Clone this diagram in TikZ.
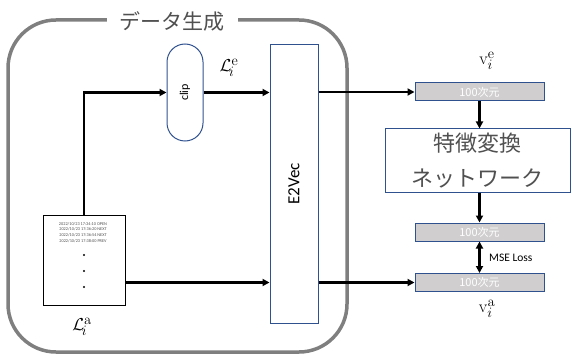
\documentclass[tikz,border=0pt]{standalone}
\usepackage[no-math]{fontspec}
\setmainfont{Carlito}
\newfontfamily\jp{Noto Sans CJK JP}
\usetikzlibrary{arrows.meta}
\definecolor{bord}{HTML}{2F528F}
\definecolor{frm}{HTML}{7F7F7F}
\definecolor{vfill}{HTML}{D0CECE}
\definecolor{txt}{HTML}{505050}
\tikzset{
  arr/.style={line width=2.4pt,-{Triangle[length=7pt,width=7pt]}},
  darr/.style={line width=2.4pt,{Triangle[length=7pt,width=7pt]}-{Triangle[length=7pt,width=7pt]}},
  vecbox/.style={draw=bord,line width=1pt,fill=vfill,minimum width=129pt,minimum height=18pt,inner sep=0pt,
     font=\jp\fontsize{11}{12}\selectfont,text=white},
  lbl/.style={font=\fontsize{19}{22}\selectfont,inner sep=0pt},
}
\begin{document}
\begin{tikzpicture}[x=1pt,y=-1pt]
\useasboundingbox (0,0) rectangle (572,358);
% frame
\draw[frm,line width=3.5pt,rounded corners=48pt] (8,20) rectangle (347,352);
\node[fill=white,inner xsep=13pt,inner ysep=2pt,font=\jp\fontsize{21}{24}\selectfont,text=txt] (title) at (172,21) {データ生成};
% log box
\node[draw=black,line width=1pt,minimum width=82pt,minimum height=90pt,inner sep=0pt] (log) at (84,260) {};
\node[font=\fontsize{4.3}{5.7}\selectfont,text=txt,align=center,inner sep=0pt,anchor=north] (logtxt) at (83,222)
 {2022/10/23 17:34:10 OPEN\\2022/10/23 17:36:20 NEXT\\2022/10/23 17:36:54 NEXT\\2022/10/23 17:38:00 PREV};
\foreach \yy/\nm in {255/d1,271/d2,287/d3}{\fill (84,\yy) circle (1.1pt) coordinate (\nm);}
% clip
\node[draw=bord,line width=1pt,minimum width=36pt,minimum height=97pt,rounded corners=18pt,inner sep=0pt] (clip) at (185,92.5)
 {\rotatebox{90}{\fontsize{12}{14}\selectfont clip}};
% E2Vec
\node[draw=bord,line width=1pt,minimum width=48pt,minimum height=278pt,inner sep=0pt] (e2v) at (294,184)
 {\rotatebox{90}{\fontsize{17}{20}\selectfont E2Vec}};
% vector boxes
\node[vecbox] (b1) at (479.5,92) {100次元};
\node[vecbox] (b2) at (479.5,232) {100次元};
\node[vecbox] (b3) at (479.5,282.5) {100次元};
% network
\node[draw=bord,line width=1pt,minimum width=185pt,minimum height=63pt,inner sep=0pt,align=center,
  font=\jp\fontsize{22}{35}\selectfont,text=txt] (net) at (477.5,160.5) {特徴変換\\ネットワーク};
% labels
\node[lbl] (le) at (229,68) {$\mathcal{L}_{\!i}^{\mathrm{e}}$};
\node[lbl] (ve) at (487,61) {$\mathrm{v}_i^{\mathrm{e}}$};
\node[lbl] (va) at (487,309) {$\mathrm{v}_i^{\mathrm{a}}$};
\node[lbl] (la) at (82,327) {$\mathcal{L}_{\!i}^{\mathrm{a}}$};
\node[font=\fontsize{11.5}{13}\selectfont,anchor=west,inner sep=0pt] (mse) at (489,258) {MSE Loss};
% connectors
\draw[arr] (log.north) |- (clip.west);
\draw[arr] (clip.east) -- (clip.east -| e2v.west);
\draw[arr] (e2v.east |- b1.west) -- (b1.west);
\draw[arr] (b1.south) -- (b1.south |- net.north);
\draw[arr] (net.south -| b2.north) -- (b2.north);
\draw[darr] (b2.south) -- (b3.north);
\draw[arr] (log.east |- b3.west) -- (e2v.west |- b3.west);
\draw[arr] (e2v.east |- b3.west) -- (b3.west);
\end{tikzpicture}
\end{document}
